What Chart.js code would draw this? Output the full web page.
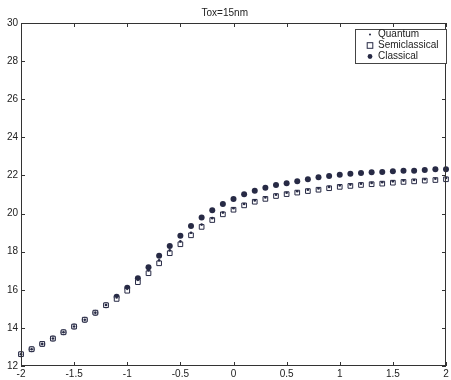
<!DOCTYPE html>
<html>
<head>
<meta charset="utf-8">
<script src="https://cdn.jsdelivr.net/npm/chart.js@4"></script>
<style>
  html, body { margin: 0; padding: 0; background: #fff; }
  #wrap { width: 451px; height: 380px; }
</style>
</head>
<body>
<div id="wrap"><canvas id="myChart" width="451" height="380"></canvas></div>
<script>
// data
const xs = [-2, -1.9, -1.8, -1.7, -1.6, -1.5, -1.4, -1.3, -1.2, -1.1, -1, -0.9, -0.8, -0.7, -0.6, -0.5, -0.4, -0.3, -0.2, -0.1,
  0, 0.1, 0.2, 0.3, 0.4, 0.5, 0.6, 0.7, 0.8, 0.9, 1, 1.1, 1.2, 1.3, 1.4, 1.5, 1.6, 1.7, 1.8, 1.9, 2];
const quantum = [12.62, 12.88, 13.16, 13.44, 13.77, 14.07, 14.43, 14.8, 15.2, 15.6, 16.05, 16.52, 17.02, 17.55, 18.07,
  18.54, 18.99, 19.42, 19.76, 20.05, 20.28, 20.5, 20.69, 20.84, 20.99, 21.09, 21.17, 21.25, 21.32, 21.4, 21.47,
  21.52, 21.57, 21.61, 21.64, 21.69, 21.73, 21.76, 21.8, 21.83, 21.87];
const semiclassical = [12.62, 12.88, 13.16, 13.44, 13.77, 14.07, 14.43, 14.8, 15.19, 15.52, 15.95, 16.4, 16.87, 17.39, 17.92,
  18.39, 18.86, 19.3, 19.66, 19.96, 20.2, 20.43, 20.62, 20.77, 20.92, 21.02, 21.1, 21.18, 21.25, 21.33, 21.4,
  21.45, 21.5, 21.54, 21.57, 21.62, 21.66, 21.69, 21.73, 21.76, 21.8];
const classical = [12.62, 12.88, 13.16, 13.44, 13.77, 14.07, 14.43, 14.8, 15.19, 15.64, 16.11, 16.6, 17.18, 17.78, 18.3,
  18.84, 19.35, 19.79, 20.17, 20.5, 20.77, 21.01, 21.2, 21.36, 21.5, 21.59, 21.69, 21.8, 21.9, 21.97, 22.04,
  22.09, 22.13, 22.17, 22.18, 22.22, 22.24, 22.25, 22.29, 22.32, 22.33];
const chartTitle = 'Tox=15nm';

const ink = '#272a45';
const fontFam = '"Liberation Sans", Arial, sans-serif';

function pts(ys) {
  return xs.map((x, i) => ({ x: x, y: ys[i] }));
}

// matlab-like frame, inward ticks and boxed legend
const matlabFrame = {
  id: 'matlabFrame',
  afterDraw(chart) {
    const { ctx, chartArea: a, scales } = chart;
    ctx.save();
    ctx.strokeStyle = '#333';
    ctx.lineWidth = 1;
    ctx.strokeRect(a.left + 0.5, a.top + 0.5, a.right - a.left - 1, a.bottom - a.top - 1);
    const len = 4;
    ctx.beginPath();
    scales.x.ticks.forEach(t => {
      const px = Math.round(scales.x.getPixelForValue(t.value)) + 0.5;
      ctx.moveTo(px, a.bottom); ctx.lineTo(px, a.bottom - len);
      ctx.moveTo(px, a.top); ctx.lineTo(px, a.top + len);
    });
    scales.y.ticks.forEach(t => {
      const py = Math.round(scales.y.getPixelForValue(t.value)) + 0.5;
      ctx.moveTo(a.left, py); ctx.lineTo(a.left + len, py);
      ctx.moveTo(a.right, py); ctx.lineTo(a.right - len, py);
    });
    ctx.stroke();

    // legend box
    const bx = 355, by = 29, bw = 91, bh = 34;
    ctx.fillStyle = '#fff';
    ctx.fillRect(bx, by, bw, bh);
    ctx.strokeStyle = '#444';
    ctx.strokeRect(bx + 0.5, by + 0.5, bw, bh);
    ctx.font = '10px ' + fontFam;
    ctx.textBaseline = 'middle';
    chart.data.datasets.forEach((ds, i) => {
      const cy = by + 5.5 + i * 11;
      const mx = 370;
      ctx.fillStyle = ds.backgroundColor;
      ctx.strokeStyle = ds.borderColor;
      ctx.lineWidth = ds.borderWidth;
      if (ds.pointStyle === 'rect') {
        const r = 2.8;
        ctx.fillRect(mx - r, cy - r, 2 * r, 2 * r);
        ctx.strokeRect(mx - r, cy - r, 2 * r, 2 * r);
      } else {
        ctx.beginPath();
        ctx.arc(mx, cy, ds.pointRadius * 0.8, 0, Math.PI * 2);
        ctx.fill();
      }
      ctx.fillStyle = '#222';
      ctx.fillText(ds.label, 378, cy);
    });
    ctx.restore();
  }
};

const config = {
  type: 'scatter',
  data: {
    datasets: [
      { label: 'Quantum', data: pts(quantum), pointStyle: 'circle', pointRadius: 1.3, clip: false,
        backgroundColor: ink, borderColor: ink, borderWidth: 0 },
      { label: 'Semiclassical', data: pts(semiclassical), pointStyle: 'rect', pointRadius: 3.3, clip: false,
        backgroundColor: '#fff', borderColor: ink, borderWidth: 1 },
      { label: 'Classical', data: pts(classical), pointStyle: 'circle', pointRadius: 3, clip: false,
        backgroundColor: ink, borderColor: ink, borderWidth: 0 }
    ]
  },
  options: {
    responsive: false,
    animation: false,
    layout: { padding: { left: 0, right: 1.5, top: 0, bottom: 0 } },
    plugins: {
      legend: { display: false },
      tooltip: { enabled: false },
      title: {
        display: true,
        text: chartTitle,
        color: '#222',
        font: { family: fontFam, size: 10, weight: 'normal' },
        padding: { top: 7, bottom: 4 }
      }
    },
    scales: {
      x: {
        type: 'linear', min: -2, max: 2,
        grid: { display: false, drawTicks: false },
        border: { display: false },
        ticks: { stepSize: 0.5, color: '#222', padding: 2, maxRotation: 0,
          font: { family: fontFam, size: 10 },
          callback: v => String(v) },
        afterFit(s) { s.height = 14; s.paddingLeft = 0; s.paddingRight = 0; }
      },
      y: {
        min: 12, max: 30,
        grid: { display: false, drawTicks: false },
        border: { display: false },
        ticks: { stepSize: 2, color: '#222', padding: 3,
          font: { family: fontFam, size: 10 } },
        afterFit(s) { s.width = 21; s.paddingTop = 0; s.paddingBottom = 0; }
      }
    }
  },
  plugins: [matlabFrame]
};

new Chart(document.getElementById('myChart'), config);
</script>
</body>
</html>
